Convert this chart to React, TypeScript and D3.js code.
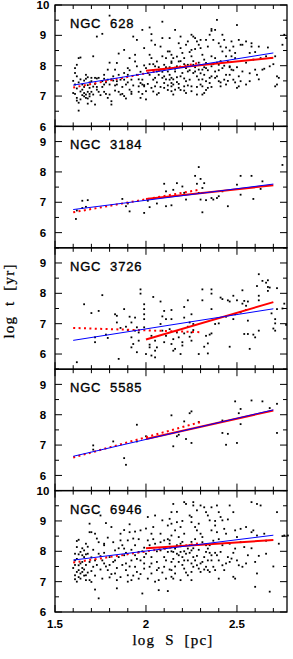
import * as d3 from 'd3';
import React from 'react';

// chart size and frame (pixels)
const W = 293, H = 659;
const LEFT = 55, RIGHT = 287, TOP = 5, BOTTOM = 612;

const galaxyNames = ['NGC  628', 'NGC  3184', 'NGC  3726', 'NGC  5585', 'NGC  6946'];
const yDomains: [number, number][] = [[6, 10], [5.5, 9.5], [5.5, 9.5], [5.5, 9.5], [6, 10]];
const xTickLabels = [1.5, 2, 2.5];

// fits: [x0, y0, x1, y1]
const blueFits = [[1.6, 7.36, 2.7, 8.42], [1.6, 6.76, 2.7, 7.6], [1.6, 6.45, 2.7, 7.49], [1.6, 6.63, 2.7, 8.16], [1.6, 7.71, 2.7, 8.53]];
const redFits = [[2.0, 7.83, 2.7, 8.26], [2.0, 7.11, 2.7, 7.56], [2.0, 6.48, 2.7, 7.71], [2.0, 7.2, 2.7, 8.14], [2.0, 8.1, 2.7, 8.37]];
const redDotFits = [[1.6, 7.28, 2.3, 8.1], [1.6, 6.67, 2.3, 7.42], [1.6, 6.86, 2.3, 6.72], [1.6, 6.59, 2.3, 7.76], [1.6, 7.63, 2.3, 8.27]];

// clusters: [log S, log t]
const pts628 = [
  [1.61, 7.92], [1.62, 8.03], [1.61, 7.76], [1.62, 7.65], [1.61, 7.38], [1.6, 7.1], [1.61, 7.07], [1.62, 6.94], [1.63, 8.25], [1.64, 8.27],
  [1.63, 6.78], [1.63, 6.52], [1.65, 7.21], [1.66, 7.51], [1.66, 7.1], [1.66, 6.99], [1.67, 6.94], [1.67, 7.05], [1.68, 7.14], [1.68, 6.92],
  [1.69, 7.07], [1.69, 6.99], [1.67, 7.57], [1.68, 7.62], [1.7, 7.14], [1.7, 6.83], [1.71, 7.31], [1.72, 7.6], [1.73, 7.58], [1.72, 6.72],
  [1.71, 8.31], [1.65, 7.38], [1.68, 7.36], [1.7, 7.49], [1.64, 6.89], [1.65, 7.03], [1.69, 7.27],
  [1.73, 8.96], [1.76, 9.05], [1.73, 7.21], [1.74, 7.14], [1.75, 7.03], [1.76, 7.49], [1.77, 7.38], [1.77, 7.57], [1.77, 7.14], [1.78, 7.07],
  [1.79, 7.54], [1.79, 6.94], [1.8, 9.65], [1.8, 7.38], [1.81, 6.83], [1.81, 6.72], [1.82, 7.65], [1.82, 7.51], [1.83, 7.87], [1.79, 7.87], [1.77, 7.7],
  [1.84, 8.09], [1.84, 7.38], [1.85, 7.14], [1.86, 7.05], [1.87, 7.07], [1.88, 8.52], [1.88, 7.54], [1.89, 7.38], [1.89, 6.92], [1.9, 7.92],
  [1.9, 7.7], [1.91, 7.21], [1.91, 8.25], [1.92, 7.14], [1.92, 7.07], [1.92, 7.54], [1.94, 8.14], [1.95, 7.98], [1.95, 7.7], [1.96, 7.14],
  [1.97, 6.94], [1.98, 7.07], [1.88, 7.76], [1.86, 7.54], [1.84, 7.49], [1.83, 7.18],
  [1.93, 8.96], [1.95, 8.85], [1.94, 8.36], [1.98, 9.18], [1.99, 8.58], [1.98, 7.54], [1.99, 8.01], [1.99, 7.32], [2.0, 7.16], [2.0, 6.89],
  [1.99, 7.36], [1.97, 7.43], [1.98, 7.38], [2.01, 7.76], [2.0, 7.92], [1.96, 7.32],
  [2.02, 9.26], [2.03, 9.04], [2.03, 8.83], [2.05, 8.69], [2.09, 9.45], [2.09, 8.91], [2.02, 8.36], [2.03, 8.25], [2.04, 8.05], [2.05, 7.98],
  [2.06, 7.81], [2.07, 7.7], [2.08, 7.87], [2.09, 7.6], [2.1, 7.43], [2.1, 8.03], [2.11, 8.25], [2.12, 7.81], [2.13, 7.54], [2.14, 7.32],
  [2.05, 7.32], [2.03, 7.27], [2.07, 7.1], [2.04, 7.54], [2.09, 8.31], [2.1, 7.27], [2.12, 8.47], [2.14, 8.14], [2.02, 7.7], [2.06, 8.14],
  [2.08, 8.63], [2.13, 8.91],
  [2.14, 8.36], [2.14, 8.09], [2.15, 8.25], [2.16, 7.81], [2.17, 7.98], [2.18, 8.14], [2.19, 8.58], [2.2, 8.42], [2.21, 8.25], [2.22, 8.69],
  [2.23, 8.8], [2.16, 9.18], [2.19, 8.96], [2.18, 8.74], [2.14, 7.6], [2.15, 7.38], [2.16, 7.21], [2.17, 7.46], [2.18, 7.27], [2.19, 7.65],
  [2.21, 7.32], [2.22, 7.49], [2.23, 7.81], [2.2, 7.76], [2.14, 7.43], [2.14, 7.16], [2.15, 7.05], [2.21, 7.18], [2.24, 7.54], [2.13, 8.47],
  [2.23, 8.03], [2.22, 7.92],
  [2.25, 9.02], [2.26, 8.96], [2.27, 8.91], [2.28, 8.8], [2.29, 8.69], [2.3, 8.58], [2.31, 8.36], [2.32, 8.2], [2.33, 8.09], [2.25, 8.52],
  [2.25, 8.31], [2.26, 8.03], [2.27, 7.81], [2.28, 7.65], [2.29, 7.54], [2.3, 7.38], [2.31, 7.32], [2.32, 7.7], [2.33, 7.49], [2.34, 7.27],
  [2.35, 7.43], [2.36, 7.65], [2.31, 7.05], [2.28, 7.05], [2.32, 7.1], [2.25, 7.32], [2.25, 7.16], [2.36, 7.98], [2.36, 8.31], [2.34, 8.63],
  [2.33, 8.85], [2.35, 9.02], [2.36, 9.15], [2.36, 9.21], [2.38, 9.18], [2.37, 8.85], [2.29, 7.87], [2.31, 7.87], [2.33, 7.92], [2.26, 7.76],
  [2.39, 9.51], [2.4, 8.74], [2.41, 8.63], [2.42, 9.02], [2.43, 8.85], [2.44, 8.31], [2.45, 8.14], [2.46, 7.98], [2.47, 7.87], [2.47, 8.8],
  [2.48, 8.63], [2.49, 8.42], [2.51, 8.85], [2.52, 8.69], [2.5, 9.34], [2.38, 7.81], [2.39, 7.65], [2.4, 7.49], [2.41, 7.32], [2.42, 7.92],
  [2.43, 7.54], [2.44, 7.38], [2.46, 7.7], [2.46, 7.95], [2.47, 8.31], [2.48, 7.54], [2.49, 8.25], [2.5, 7.27], [2.51, 7.32], [2.52, 7.49],
  [2.53, 7.81], [2.53, 8.69], [2.42, 8.47], [2.4, 8.03], [2.38, 8.25],
  [2.55, 8.8], [2.57, 8.42], [2.58, 8.63], [2.58, 8.74], [2.59, 8.2], [2.6, 7.87], [2.61, 7.7], [2.62, 8.63], [2.63, 8.25], [2.64, 7.87],
  [2.66, 8.31], [2.68, 7.98], [2.69, 8.25], [2.71, 8.31], [2.72, 7.65], [2.73, 7.6], [2.72, 7.38], [2.71, 7.32], [2.75, 8.69], [2.76, 9.02],
  [2.77, 8.91], [2.55, 7.38], [2.57, 7.49],
  [2.13, 7.7], [2.15, 7.55], [2.16, 7.9], [2.17, 7.62], [2.18, 7.4], [2.19, 7.2], [2.2, 7.95], [2.21, 7.58], [2.22, 7.1], [2.23, 7.35],
  [2.24, 7.85], [2.12, 7.2], [2.13, 7.95], [2.17, 8.3], [2.19, 8.15], [2.21, 8.05], [2.24, 8.45], [2.26, 8.15], [2.27, 7.95], [2.28, 7.3],
  [2.29, 8.1], [2.3, 7.75], [2.31, 7.55], [2.32, 7.95], [2.33, 7.2], [2.34, 7.85], [2.35, 7.6], [2.36, 7.3], [2.37, 8.05], [2.38, 7.6],
  [2.39, 8.1], [2.4, 7.85], [2.41, 7.45], [2.43, 8.0], [2.44, 7.7], [2.45, 7.5], [2.46, 8.5], [2.48, 7.85], [2.5, 7.95], [2.51, 7.65],
  [2.49, 7.45], [2.44, 8.6], [2.41, 8.15], [2.3, 8.85], [2.27, 8.55],
  [2.01, 7.4], [2.02, 8.05], [2.04, 7.85], [2.05, 7.6], [2.06, 7.45], [2.07, 7.95], [2.08, 7.3], [2.09, 7.8], [2.1, 7.65], [2.11, 7.95],
  [2.12, 7.35], [2.11, 7.55], [2.06, 7.05], [2.04, 7.15], [1.97, 7.8], [1.96, 7.55],
  [1.6, 7.5], [1.62, 7.25], [1.63, 7.45], [1.64, 7.15], [1.66, 7.3], [1.67, 7.7], [1.69, 7.45], [1.7, 7.6], [1.71, 7.05], [1.72, 7.4],
  [1.73, 7.3], [1.74, 7.6], [1.62, 6.85], [1.64, 7.55], [1.68, 6.75],
  [1.76, 7.3], [1.78, 7.45], [1.8, 7.05], [1.81, 7.55], [1.83, 7.35], [1.85, 7.7], [1.87, 7.3], [1.88, 7.0], [1.9, 7.45], [1.91, 7.85],
  [1.93, 7.35], [1.85, 8.4], [1.8, 8.1],
  [2.55, 8.1], [2.57, 7.75], [2.6, 8.45], [2.62, 7.55], [2.65, 7.9], [2.67, 8.6], [2.7, 8.05],
];

const pts3184 = [
  [1.615, 6.45], [1.62, 6.73], [1.65, 6.81], [1.65, 7.05], [1.68, 7.07], [1.67, 6.85], [1.87, 7.11], [1.89, 6.87], [1.91, 6.7], [1.9, 6.96],
  [1.99, 6.65], [2.01, 7.05], [2.02, 6.84], [2.06, 6.96], [2.11, 6.87], [2.1, 7.61], [2.11, 7.36], [2.14, 6.9], [2.15, 7.41], [2.17, 7.63],
  [2.2, 7.52], [2.21, 7.31], [2.22, 7.09], [2.27, 7.87], [2.28, 7.61], [2.29, 8.16], [2.29, 7.31], [2.3, 7.09], [2.3, 7.77], [2.31, 7.47],
  [2.31, 6.67], [2.32, 7.63], [2.31, 7.31], [2.33, 7.07], [2.36, 7.14], [2.37, 7.09], [2.39, 7.14], [2.4, 7.2], [2.42, 7.36], [2.45, 6.87],
  [2.5, 7.58], [2.52, 7.87], [2.52, 7.25], [2.58, 7.87], [2.59, 7.11], [2.64, 7.69], [2.63, 7.44], [2.75, 8.23],
];

const pts3726 = [
  [1.62, 5.73], [1.66, 7.64], [1.7, 7.35], [1.76, 7.94], [1.74, 7.42], [1.72, 6.55], [1.72, 6.39], [1.78, 6.64], [1.79, 6.53], [1.83, 7.31],
  [1.84, 7.26], [1.85, 5.84], [1.84, 7.04], [1.86, 6.86], [1.88, 7.48], [1.89, 6.9], [1.9, 6.79], [1.91, 7.23], [1.92, 7.04], [1.92, 6.55],
  [1.92, 6.22], [1.93, 6.33], [1.94, 6.77], [1.94, 7.2], [1.95, 6.06], [1.95, 6.88], [1.96, 6.44], [1.96, 6.71], [1.97, 8.13], [1.97, 7.99],
  [1.99, 7.64], [1.99, 7.48], [1.99, 7.31], [1.99, 7.15], [2.0, 6.0], [1.99, 6.88], [2.02, 6.31], [2.02, 6.22], [2.03, 5.95], [2.03, 6.6],
  [2.04, 7.88], [2.05, 6.44], [2.05, 5.89], [2.06, 6.22], [2.05, 6.11], [2.08, 7.73], [2.08, 6.99], [2.09, 6.77], [2.1, 6.39], [2.09, 7.24],
  [2.1, 7.42], [2.11, 7.15], [2.13, 6.82], [2.11, 6.6],
  [2.14, 7.45], [2.14, 7.15], [2.14, 6.33], [2.15, 6.49], [2.15, 6.11], [2.16, 6.17], [2.17, 6.71], [2.18, 6.55], [2.19, 6.0], [2.2, 6.28],
  [2.2, 6.39], [2.21, 7.55], [2.21, 7.2], [2.21, 6.68], [2.23, 6.9], [2.23, 7.77], [2.24, 7.04], [2.24, 6.57], [2.25, 6.71], [2.25, 6.44],
  [2.25, 7.31], [2.26, 6.79], [2.26, 6.99], [2.29, 6.0], [2.31, 8.13], [2.31, 7.77], [2.32, 6.24], [2.33, 6.6], [2.34, 6.35], [2.34, 6.02],
  [2.35, 6.64], [2.36, 6.68], [2.36, 8.13], [2.36, 7.99], [2.36, 7.48], [2.38, 6.99], [2.4, 7.01], [2.41, 7.86], [2.42, 7.81], [2.44, 7.23],
  [2.45, 7.77], [2.46, 6.24], [2.46, 7.73], [2.48, 7.15], [2.48, 7.92], [2.49, 7.31], [2.5, 7.77], [2.52, 7.37], [2.53, 8.1], [2.53, 7.66],
  [2.54, 7.75], [2.55, 7.59], [2.56, 7.73], [2.55, 7.45], [2.57, 6.17], [2.56, 7.1], [2.54, 6.66], [2.56, 6.66], [2.59, 6.64], [2.6, 6.55],
  [2.61, 8.24], [2.62, 7.77], [2.62, 7.92], [2.62, 6.77], [2.62, 8.63], [2.64, 8.41], [2.66, 8.35], [2.67, 8.43], [2.67, 8.08], [2.68, 8.19],
  [2.69, 7.34], [2.71, 7.15], [2.71, 7.01], [2.72, 8.17], [2.72, 7.48], [2.7, 6.84], [2.71, 6.77], [2.67, 8.21], [2.75, 7.5], [2.76, 7.66],
  [2.77, 6.96],
];

const pts5585 = [
  [1.71, 6.99], [1.71, 6.85], [1.82, 7.12], [1.88, 6.57], [1.89, 6.35], [1.95, 7.67], [1.95, 7.12], [2.0, 7.29], [2.14, 7.98], [2.15, 6.96],
  [2.17, 7.29], [2.18, 7.34], [2.21, 7.78], [2.22, 7.2], [2.24, 8.05], [2.25, 8.11], [2.25, 7.07], [2.29, 7.76], [2.42, 7.81], [2.42, 7.4],
  [2.45, 7.37], [2.44, 7.01], [2.49, 8.44], [2.5, 7.07], [2.51, 8.05], [2.52, 7.69], [2.52, 8.19], [2.58, 8.47], [2.64, 8.44], [2.68, 8.22],
  [2.72, 7.4], [2.72, 8.36],
];

const pts6946 = [
  [1.74, 6.45], [1.72, 6.74], [1.7, 6.99], [1.69, 7.05], [1.67, 7.05], [1.61, 7.21], [1.62, 7.32], [1.63, 7.38], [1.64, 7.27], [1.65, 7.32],
  [1.66, 7.4], [1.67, 7.21], [1.61, 7.92], [1.62, 8.34], [1.63, 8.38], [1.62, 8.14], [1.64, 7.98], [1.65, 7.87], [1.66, 7.81], [1.61, 7.7],
  [1.63, 7.54], [1.65, 7.65], [1.66, 8.03], [1.67, 8.25], [1.69, 8.63], [1.7, 8.63], [1.68, 7.92], [1.69, 7.65], [1.71, 7.49], [1.72, 7.7],
  [1.72, 8.58], [1.73, 8.42], [1.74, 7.92], [1.75, 7.84], [1.76, 7.7], [1.77, 7.6], [1.77, 8.2], [1.77, 8.25], [1.78, 8.93], [1.75, 9.18],
  [1.79, 7.38], [1.8, 7.14], [1.8, 7.81], [1.81, 8.8], [1.82, 7.65], [1.83, 8.03], [1.83, 7.27], [1.84, 7.05], [1.84, 6.78], [1.85, 7.81],
  [1.86, 8.58], [1.86, 8.36], [1.87, 8.2], [1.88, 8.09], [1.88, 7.87], [1.89, 7.6], [1.89, 7.38], [1.9, 7.21], [1.9, 8.36], [1.91, 8.89],
  [1.91, 8.63], [1.92, 7.7], [1.92, 7.05], [1.93, 8.42], [1.94, 8.2], [1.94, 7.87], [1.94, 7.49], [1.95, 7.32], [1.96, 7.98], [1.96, 7.1],
  [1.97, 7.7], [1.97, 8.69], [1.98, 6.61], [1.99, 8.12], [1.99, 7.81], [1.99, 7.43], [2.0, 7.92], [2.01, 8.36], [2.01, 9.13], [2.02, 7.49],
  [2.03, 7.27], [2.03, 7.81], [2.03, 8.58], [2.04, 8.8], [2.05, 9.18], [2.05, 8.25], [2.06, 7.65], [2.06, 7.38], [2.07, 7.05], [2.07, 6.72],
  [2.08, 8.03], [2.08, 8.58], [2.09, 9.02], [2.1, 8.36], [2.1, 7.81], [2.1, 7.49], [2.11, 7.1], [2.12, 8.85], [2.12, 7.98], [2.13, 8.25],
  [2.14, 7.65], [2.14, 8.52], [1.61, 7.08], [1.63, 7.15], [1.69, 8.91], [2.12, 6.69],
  [2.15, 9.56], [2.21, 9.62], [2.22, 9.56], [2.26, 9.62], [2.26, 9.51], [2.3, 9.51], [2.32, 9.45], [2.36, 9.45], [2.39, 9.51], [2.46, 9.51],
  [2.58, 9.62], [2.61, 9.56], [2.63, 9.51], [2.72, 9.29], [2.14, 9.29], [2.13, 9.07], [2.14, 8.91], [2.16, 8.69], [2.17, 8.96], [2.18, 8.47],
  [2.19, 8.8], [2.2, 8.31], [2.21, 8.58], [2.24, 9.18], [2.25, 9.13], [2.25, 8.96], [2.27, 8.8], [2.28, 8.69], [2.29, 8.91], [2.3, 8.58],
  [2.31, 8.47], [2.33, 9.29], [2.34, 9.18], [2.35, 9.02], [2.36, 8.69], [2.4, 9.29], [2.41, 9.13], [2.42, 9.02], [2.43, 8.74], [2.44, 8.58],
  [2.38, 8.85], [2.39, 8.63], [2.48, 9.29], [2.49, 8.69], [2.52, 8.74], [2.55, 8.8], [2.58, 8.63], [2.59, 8.69], [2.61, 8.52], [2.65, 8.58],
  [2.13, 8.36], [2.14, 8.14], [2.15, 7.98], [2.16, 8.09], [2.17, 7.92], [2.18, 7.87], [2.19, 7.98], [2.2, 7.81], [2.21, 7.7], [2.22, 7.92],
  [2.23, 8.09], [2.24, 8.2], [2.25, 8.31], [2.25, 8.03], [2.26, 7.81], [2.27, 7.7], [2.28, 7.54], [2.29, 7.43], [2.3, 7.32], [2.31, 7.65],
  [2.32, 7.81], [2.33, 7.98], [2.34, 8.09], [2.35, 8.2], [2.36, 7.87], [2.36, 7.7], [2.37, 7.49], [2.38, 7.38], [2.39, 7.87], [2.4, 7.7],
  [2.41, 7.98], [2.42, 7.54], [2.43, 7.38], [2.45, 7.81], [2.46, 7.65], [2.47, 7.76], [2.49, 8.09], [2.5, 8.47], [2.51, 7.54], [2.53, 7.49],
  [2.54, 8.14], [2.56, 7.87], [2.6, 7.65], [2.61, 7.27], [2.66, 7.92], [2.14, 7.38], [2.14, 7.16], [2.15, 7.1], [2.16, 7.27], [2.19, 7.05],
  [2.21, 7.43], [2.23, 7.21], [2.25, 7.32], [2.25, 7.05], [2.26, 7.49], [2.33, 7.49], [2.34, 7.38], [2.35, 7.32], [2.4, 7.1], [2.48, 7.16],
  [2.49, 7.1], [2.6, 6.83], [2.68, 6.67], [2.73, 8.25], [2.76, 8.52], [2.78, 8.52], [2.75, 8.5],
  [1.6, 7.45], [1.61, 7.55], [1.62, 7.75], [1.62, 7.0], [1.63, 7.9], [1.64, 7.6], [1.64, 7.1], [1.65, 8.1], [1.65, 7.45], [1.66, 7.2],
  [1.67, 7.55], [1.67, 7.9], [1.68, 7.3], [1.68, 8.15], [1.7, 7.8], [1.7, 7.35], [1.71, 8.05], [1.72, 7.2], [1.73, 7.55], [1.74, 8.3],
  [1.75, 7.4], [1.76, 7.1], [1.77, 7.95], [1.78, 7.5], [1.79, 8.45], [1.8, 7.55], [1.81, 7.25], [1.82, 8.3], [1.83, 7.7], [1.84, 7.45],
  [1.85, 8.1], [1.86, 7.15], [1.87, 7.55], [1.88, 8.7], [1.89, 7.95], [1.9, 7.0], [1.91, 7.5], [1.92, 8.05], [1.93, 7.2], [1.94, 8.65],
  [1.95, 7.75], [1.96, 8.4], [1.97, 7.25], [1.98, 8.0], [1.99, 7.6], [2.0, 8.75], [2.01, 7.1], [2.02, 8.2], [2.03, 7.6], [2.04, 8.4],
  [2.05, 7.0], [2.06, 8.0], [2.07, 7.45], [2.08, 8.3], [2.09, 7.3], [2.1, 8.1], [2.11, 7.7], [2.12, 8.4], [2.13, 7.4], [2.14, 8.0],
  [2.15, 7.75], [2.16, 7.5], [2.17, 8.2], [2.18, 7.65], [2.19, 8.25], [2.2, 7.55], [2.21, 8.0], [2.22, 7.3], [2.23, 7.7], [2.24, 7.95],
  [2.25, 7.6], [2.26, 8.1], [2.27, 8.4], [2.28, 7.85], [2.29, 8.05], [2.3, 7.6], [2.31, 8.3], [2.32, 7.4], [2.33, 8.2], [2.34, 7.7],
  [2.35, 7.95], [2.37, 8.35], [2.38, 7.95], [2.4, 8.4], [2.42, 8.2], [2.44, 7.6], [2.46, 8.25], [2.48, 7.95], [2.5, 7.7], [2.52, 8.3],
  [2.55, 7.6], [2.58, 8.1], [2.62, 7.85], [2.66, 8.35], [2.7, 7.5], [2.17, 9.3], [2.28, 9.35], [2.45, 9.05], [2.2, 9.0], [2.38, 9.0],
];

const panelPoints = [pts628, pts3184, pts3726, pts5585, pts6946];

const App = () => {
  const x = d3.scaleLinear().domain([1.5, 2.775]).range([LEFT, RIGHT]);
  const panelH = (BOTTOM - TOP) / 5;
  const xTicks = d3.range(15, 28).map((i) => ({ v: i / 10, major: i % 5 === 0 }));
  const lineGen = (f: number[], y: d3.ScaleLinear<number, number>) =>
    d3.line()([[x(f[0]), y(f[1])], [x(f[2]), y(f[3])]]) as string;

  return (
    <svg width={W} height={H} style={{ position: 'absolute', left: 0, top: 0, background: '#fff' }}>
      {galaxyNames.map((name, p) => {
        const top = TOP + p * panelH;
        const [d0, d1] = yDomains[p];
        const y = d3.scaleLinear().domain([d0, d1]).range([top + panelH, top]);
        const yTicks = d3.range(d0 * 2, d1 * 2 + 1).map((i) => ({ v: i / 2, major: i % 2 === 0 }));
        const yLabels = d3.range(Math.ceil(d0), Math.floor(d1) + 1);
        return (
          <g key={name}>
            {panelPoints[p].map((d, i) => (
              <rect key={i} x={x(d[0]) - 0.9} y={y(d[1]) - 0.9} width={1.8} height={1.8} fill="#000" />
            ))}
            <path d={lineGen(redDotFits[p], y)} stroke="#ff0000" strokeWidth={2} strokeDasharray="2 3.4" fill="none" />
            <path d={lineGen(redFits[p], y)} stroke="#ff0000" strokeWidth={2} fill="none" />
            <path d={lineGen(blueFits[p], y)} stroke="#0000ff" strokeWidth={1} fill="none" />
            <rect x={LEFT} y={top} width={RIGHT - LEFT} height={panelH} fill="none" stroke="#000" strokeWidth={1.3} />
            {xTicks.map((t) => {
              const len = t.major ? 7 : 4;
              return (
                <g key={t.v} stroke="#000" strokeWidth={1}>
                  <line x1={x(t.v)} x2={x(t.v)} y1={top} y2={top + len} />
                  <line x1={x(t.v)} x2={x(t.v)} y1={top + panelH} y2={top + panelH - len} />
                </g>
              );
            })}
            {yTicks.map((t) => {
              const len = t.major ? 7 : 4;
              return (
                <g key={t.v} stroke="#000" strokeWidth={1}>
                  <line x1={LEFT} x2={LEFT + len} y1={y(t.v)} y2={y(t.v)} />
                  <line x1={RIGHT} x2={RIGHT - len} y1={y(t.v)} y2={y(t.v)} />
                </g>
              );
            })}
            {yLabels.map((v) => (
              <text key={v} x={43} y={y(v)} dy="0.36em" textAnchor="middle" fontFamily="Liberation Sans, Arial, sans-serif"
                fontWeight="bold" fontSize={11.5}>{v}</text>
            ))}
            <text x={70} y={top + 23} fontFamily="Liberation Sans, Arial, sans-serif" fontSize={13} letterSpacing={0.8}
              stroke="#000" strokeWidth={0.35} style={{ whiteSpace: 'pre' }}>{name}</text>
          </g>
        );
      })}
      {xTickLabels.map((v) => (
        <text key={v} x={x(v)} y={628} textAnchor="middle" fontFamily="Liberation Sans, Arial, sans-serif"
          fontWeight="bold" fontSize={11.5}>{v}</text>
      ))}
      <text x={173} y={645} textAnchor="middle" fontFamily="Liberation Serif, Times New Roman, serif" fontSize={15}
        letterSpacing={1.2} stroke="#000" strokeWidth={0.25} style={{ whiteSpace: 'pre' }}>log  S  [pc]</text>
      <text transform="translate(14,301) rotate(-90)" textAnchor="middle" fontFamily="Liberation Serif, Times New Roman, serif"
        fontSize={15} letterSpacing={1.2} stroke="#000" strokeWidth={0.25} style={{ whiteSpace: 'pre' }}>log  t  [yr]</text>
    </svg>
  );
};

export default App;
